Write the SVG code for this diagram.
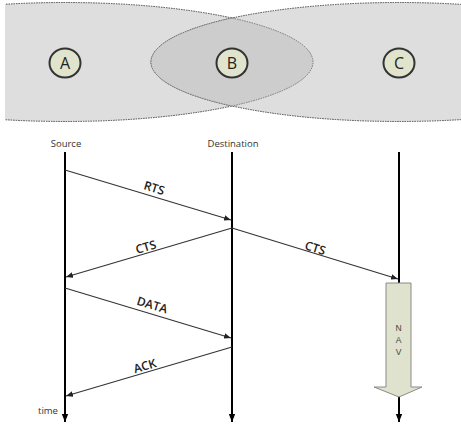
<svg xmlns="http://www.w3.org/2000/svg" width="461" height="424" viewBox="0 0 461 424">
<style>
.rng{fill:#dedede;stroke:#444;stroke-width:1;stroke-dasharray:1.5 1}
.lens{fill:#cdcdcd;stroke:#777;stroke-width:1;stroke-dasharray:1.5 1}
.node{fill:#e1e4cd;stroke:#333;stroke-width:2}
.nt{font-family:"Open Sans","Noto Sans",sans-serif;font-size:16px;fill:#222;text-anchor:middle}
.life{stroke:#000;stroke-width:2;fill:none}
.msg{stroke:#333;stroke-width:1.1;fill:none}
.lbl{font-family:"Open Sans","Noto Sans",sans-serif;font-size:12px;font-weight:600;fill:#222;text-anchor:middle}
.hdr{font-family:"Open Sans","Noto Sans",sans-serif;font-size:9.5px;fill:#333;text-anchor:middle}
</style>
<defs>
<marker id="ah" viewBox="0 0 10 10" refX="10" refY="5" markerWidth="7" markerHeight="7" orient="auto" markerUnits="userSpaceOnUse"><path d="M0,1 L10,5 L0,9 z" fill="#222"/></marker>
<marker id="lh" viewBox="0 0 10 10" refX="10" refY="5" markerWidth="8" markerHeight="8" orient="auto" markerUnits="userSpaceOnUse"><path d="M0,1 L10,5 L0,9 z" fill="#000"/></marker>
<clipPath id="band"><rect x="5" y="0" width="456" height="130"/></clipPath>
</defs>
<g id="ranges" clip-path="url(#band)">
<rect x="5" y="4" width="456" height="114" fill="#fff"/>
<ellipse class="rng" cx="65" cy="62" rx="248" ry="59.5"/>
<ellipse class="rng" cx="399" cy="62" rx="248" ry="59.5"/>
<path class="lens" d="M232,18 A248,59.5 0 0 1 313,62 A248,59.5 0 0 1 232,106 A248,59.5 0 0 1 151,62 A248,59.5 0 0 1 232,18 z"/>
</g>
<g id="A"><ellipse class="node" cx="65" cy="63" rx="15.5" ry="14.5"/><text class="nt" x="65" y="69">A</text></g>
<g id="B"><ellipse class="node" cx="232" cy="63" rx="15.5" ry="14.5"/><text class="nt" x="232" y="69">B</text></g>
<g id="C"><ellipse class="node" cx="399" cy="63" rx="15.5" ry="14.5"/><text class="nt" x="399" y="69">C</text></g>
<g id="source"><text class="hdr" x="66" y="147">Source</text><line class="life" x1="65" y1="152" x2="65" y2="422" marker-end="url(#lh)"/><text class="hdr" x="48" y="414">time</text></g>
<g id="destination"><text class="hdr" x="233" y="147">Destination</text><line class="life" x1="232" y1="152" x2="232" y2="422" marker-end="url(#lh)"/></g>
<g id="third"><line class="life" x1="399" y1="152" x2="399" y2="284"/><line class="life" x1="399" y1="396" x2="399" y2="422" marker-end="url(#lh)"/></g>
<g id="nav"><path d="M386,283 L411,283 L411,387 L422,387 L399,397 L374,387 L386,387 z" fill="#dfe2cc" stroke="#8a8a8a" stroke-width="1"/>
<text x="398.5" y="331" font-family="Liberation Sans,Arial,sans-serif" font-size="8.5" fill="#444" text-anchor="middle">N</text>
<text x="398.5" y="343" font-family="Liberation Sans,Arial,sans-serif" font-size="8.5" fill="#444" text-anchor="middle">A</text>
<text x="398.5" y="355" font-family="Liberation Sans,Arial,sans-serif" font-size="8.5" fill="#444" text-anchor="middle">V</text></g>
<g id="connectors">
<line class="msg" x1="65" y1="170" x2="231" y2="220" marker-end="url(#ah)"/>
<line class="msg" x1="232" y1="228" x2="66" y2="277" marker-end="url(#ah)"/>
<line class="msg" x1="232" y1="228" x2="398" y2="279" marker-end="url(#ah)"/>
<line class="msg" x1="65" y1="288" x2="231" y2="338" marker-end="url(#ah)"/>
<line class="msg" x1="232" y1="347" x2="66" y2="396" marker-end="url(#ah)"/>
<text class="lbl" transform="translate(153,192) rotate(16.7)">RTS</text>
<text class="lbl" transform="translate(147,251) rotate(-16.4)">CTS</text>
<text class="lbl" transform="translate(314,252) rotate(17)">CTS</text>
<text class="lbl" transform="translate(151,309) rotate(16.7)">DATA</text>
<text class="lbl" transform="translate(146,370) rotate(-16.4)">ACK</text>
</g>
</svg>
